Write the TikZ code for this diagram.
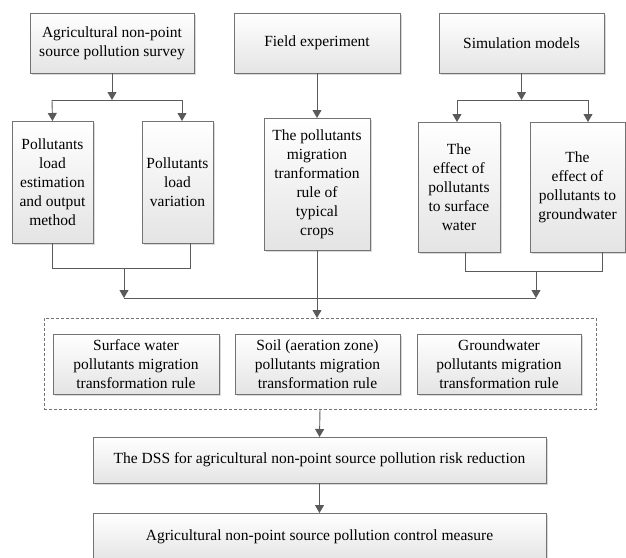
\documentclass[tikz,border=0pt]{standalone}
\usepackage{fontspec}
\setmainfont{Liberation Serif}
\usetikzlibrary{arrows.meta,shadows}
\definecolor{bordc}{RGB}{115,115,115}
\definecolor{arrc}{RGB}{90,90,90}
\definecolor{boxbot}{RGB}{228,228,228}
\begin{document}
\begin{tikzpicture}[x=1pt,y=-1pt,
  box/.style={draw=bordc, line width=0.8pt, top color=white, bottom color=boxbot,
    inner sep=0pt, outer sep=0pt, align=center,
    font=\fontsize{15.5}{19}\selectfont,
    drop shadow={shadow xshift=1.5pt, shadow yshift=-1.5pt, opacity=0.25, fill=black!60}},
  arr/.style={draw=arrc, line width=0.9pt, -{Triangle[width=9pt,length=8pt]}},
  ln/.style={draw=arrc, line width=0.9pt}]
\useasboundingbox (0,0) rectangle (626,557);
% top row
\node[box, minimum width=164pt, minimum height=60pt] (A) at (112,43) {Agricultural non-point\\source pollution survey};
\node[box, minimum width=166pt, minimum height=60pt] (F) at (317,43) {Field experiment};
\node[box, minimum width=165pt, minimum height=60pt] (S) at (521.5,43) {Simulation models};
% second row
\node[box, minimum width=81pt, minimum height=122pt] (B1) at (52.5,182) {Pollutants\\load\\estimation\\and output\\method};
\node[box, minimum width=71pt, minimum height=122pt] (B2) at (177.5,182) {Pollutants\\load\\variation};
\node[box, minimum width=106pt, minimum height=132pt] (CR) at (317,184) {The pollutants\\migration\\tranformation\\rule of\\typical\\crops};
\node[box, minimum width=82pt, minimum height=130pt] (E1) at (459,187) {The\\effect of\\pollutants\\to surface\\water};
\node[box, minimum width=95pt, minimum height=130pt] (E2) at (577.5,187) {The\\effect of\\pollutants to\\groundwater};
% dashed group
\node[draw=bordc, dashed, dash pattern=on 3pt off 2pt, line width=0.7pt, minimum width=552pt, minimum height=91pt, inner sep=0pt, outer sep=0pt] (G) at (320,363.5) {};
\node[box, minimum width=166pt, minimum height=60pt] (C1) at (136,364) {Surface water\\pollutants migration\\transformation rule};
\node[box, minimum width=165pt, minimum height=60pt] (C2) at (317.5,364) {Soil (aeration zone)\\pollutants migration\\transformation rule};
\node[box, minimum width=164pt, minimum height=60pt] (C3) at (499,364) {Groundwater\\pollutants migration\\transformation rule};
% bottom
\node[box, minimum width=453pt, minimum height=46pt] (D) at (319.5,460) {The DSS for agricultural non-point source pollution risk reduction};
\node[box, minimum width=453pt, minimum height=48pt] (L) at (319.5,537) {Agricultural non-point source pollution control measure};
% connectors: survey
\coordinate (jA) at (112,100);
\draw[arr] (A.south) -- (jA);
\draw[ln] (52,100) -- (182,100);
\draw[arr] (52,100) -- (B1.north);
\draw[arr] (182,100) -- (182,121);
% field
\draw[arr] (F.south) -- (CR.north);
% simulation
\coordinate (jS) at (521.5,100);
\draw[arr] (S.south) -- (jS);
\draw[ln] (457,100) -- (588,100);
\draw[arr] (457,100) -- (457,122);
\draw[arr] (588,100) -- (588,122);
% left bracket
\draw[ln] (B1.south) -- (52.5,268) -- (190,268) -- (190,243);
\draw[arr] (124,268) -- (124,298);
% right bracket
\draw[ln] (465,252) -- (465,271) -- (602,271) -- (602,252);
\draw[arr] (536,271) -- (536,298);
\draw[ln] (124,298) -- (536,298);
% crops to group
\draw[arr] (CR.south) -- (CR.south |- G.north);
% group to DSS
\draw[arr] (G.south) -- (D.north);
\draw[arr] (D.south) -- (L.north);
\end{tikzpicture}
\end{document}
